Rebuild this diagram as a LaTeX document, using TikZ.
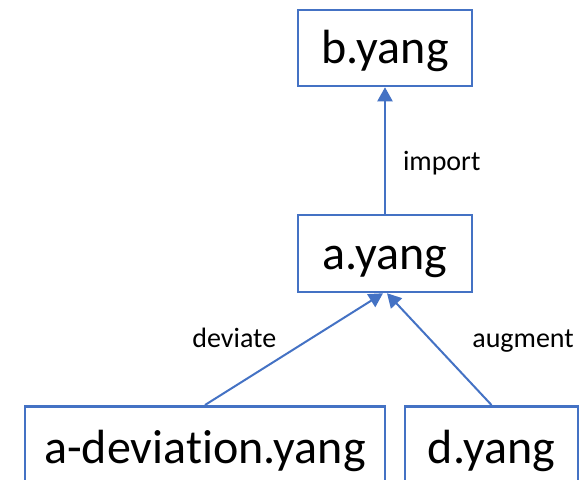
\documentclass[tikz,border=0pt]{standalone}
\usepackage{fontspec}
\setmainfont{Carlito}[Ligatures=NoCommon]
\usetikzlibrary{arrows.meta}
\definecolor{officeblue}{HTML}{4472C4}
\tikzset{
  filebox/.style={draw=officeblue, line width=2.5pt, inner sep=0pt,
    font=\fontsize{48pt}{52pt}\selectfont, text height=43pt, text depth=12pt},
  link/.style={draw=officeblue, line width=2pt, -{Triangle[width=15pt,length=14pt]}},
  lbl/.style={font=\fontsize{28pt}{32pt}\selectfont, inner sep=0pt}
}
\begin{document}
\begin{tikzpicture}[x=1pt,y=-1pt]
\clip (0,0) rectangle (582,480);
\node[filebox, minimum width=174pt, minimum height=76pt] (b) at (385,48) {b.yang};
\node[filebox, minimum width=174pt, minimum height=77pt] (a) at (385,253.5) {a.yang};
\node[filebox, minimum width=360pt, minimum height=84pt, anchor=north] (dev) at (205,405) {a-deviation.yang};
\node[filebox, minimum width=173pt, minimum height=84pt, anchor=north] (d) at (491.5,405) {d.yang};
\draw[link] (a.north) -- node[lbl, pos=0.34, anchor=base west, xshift=17pt] (limp) {import} (b.south);
\draw[link] (dev.north) -- node[lbl, pos=0.518, anchor=base east, xshift=-20pt] (ldev) {deviate} ([xshift=-2pt]a.south);
\draw[link] (d.north) -- node[lbl, pos=0.518, anchor=base west, xshift=34pt] (laug) {augment} ([xshift=2pt]a.south);
\end{tikzpicture}
\end{document}
